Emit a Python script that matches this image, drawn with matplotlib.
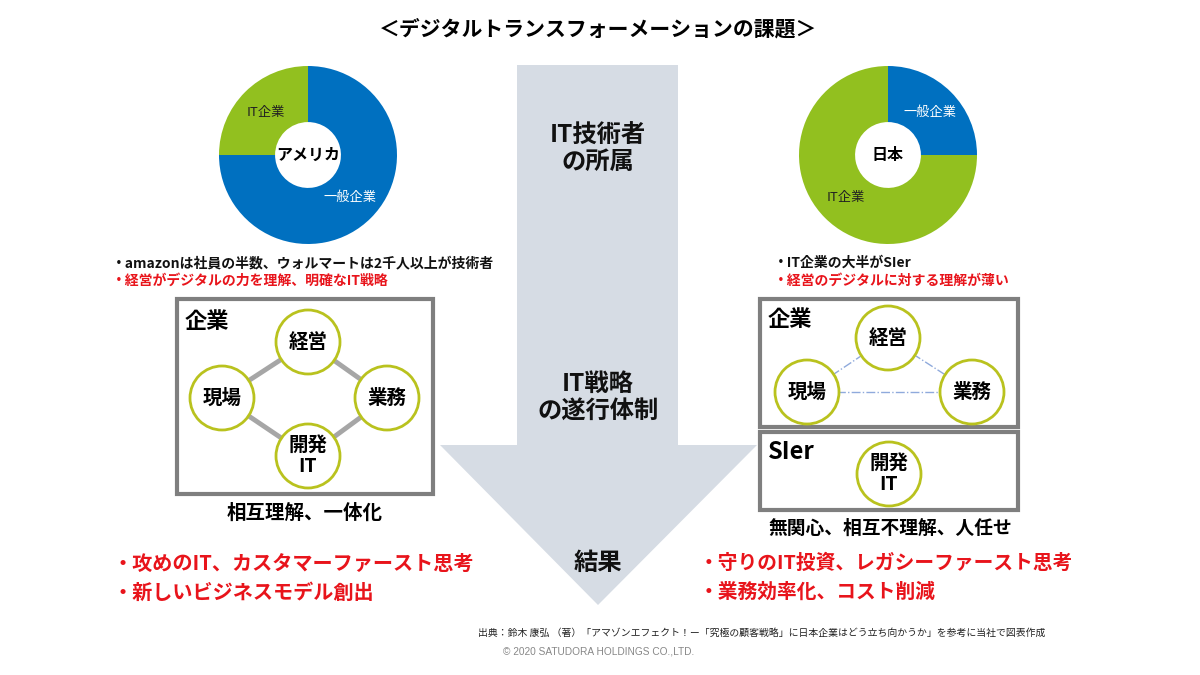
import matplotlib.pyplot as plt
import matplotlib.patches as mpatches

plt.rcParams['font.family'] = ['Noto Sans CJK JP', 'DejaVu Sans']

# donut data (share of IT engineers by employer type)
sectors = ['一般企業', 'IT企業']
usa_share = [75, 25]
japan_share = [25, 75]
sector_colors = ['#0070C0', '#92C01F']

title = '＜デジタルトランスフォーメーションの課題＞'
stages = ['IT技術者\nの所属', 'IT戦略\nの遂行体制', '結果']
usa_notes = ['・amazonは社員の半数、ウォルマートは2千人以上が技術者',
             '・経営がデジタルの力を理解、明確なIT戦略']
japan_notes = ['・IT企業の大半がSIer', '・経営のデジタルに対する理解が薄い']
usa_result = ['・攻めのIT、カスタマーファースト思考', '・新しいビジネスモデル創出']
japan_result = ['・守りのIT投資、レガシーファースト思考', '・業務効率化、コスト削減']
roles = ['経営', '現場', '業務', '開発\nIT']
source = ('出典：鈴木 康弘 （著）「アマゾンエフェクト！ー「究極の顧客戦略」に'
          '日本企業はどう立ち向かうか」を参考に当社で図表作成')
copyright = '© 2020 SATUDORA HOLDINGS CO.,LTD.'

W, H = 1200, 675
fig = plt.figure(figsize=(12, 6.75), dpi=100)
ax = fig.add_axes([0, 0, 1, 1])
ax.set_xlim(0, W)
ax.set_ylim(H, 0)
ax.axis('off')

# big arrow in the middle
arrow = mpatches.Polygon([(517, 65), (678, 65), (678, 445), (757, 445), (598, 605),
                          (440, 445), (517, 445)], closed=True, fc='#D6DCE4', ec='none')
ax.add_patch(arrow)
for txt, y in zip(stages, [149, 397, 563]):
    ax.text(598, y, txt, ha='center', va='center', fontsize=17.5, fontweight='bold',
            linespacing=1.15, color='#111111')

ax.text(598, 29, title, ha='center', va='center', fontsize=15, fontweight='bold')


def donut(cx, cy, r, shares, name):
    pax = fig.add_axes([(cx - r) / W, 1 - (cy + r) / H, 2 * r / W, 2 * r / H])
    wedges, texts = pax.pie(shares, labels=sectors, colors=sector_colors, startangle=90,
                            counterclock=False, labeldistance=0.67,
                            wedgeprops=dict(width=0.63, linewidth=0),
                            textprops=dict(fontsize=9.5))
    for t, c in zip(texts, ['white', '#222222']):
        t.set_color(c)
        t.set_ha('center')
        t.set_va('center')
    pax.set_xlim(-1, 1)
    pax.set_ylim(-1, 1)
    pax.text(0, 0, name, ha='center', va='center', fontsize=11.5, fontweight='bold')


donut(308, 155, 89, usa_share, 'アメリカ')
donut(888, 155, 89, japan_share, '日本')

# notes under donuts
for i, (a, b) in enumerate(zip(usa_notes, japan_notes)):
    c = '#111111' if i == 0 else '#E8141B'
    ax.text(112, 263 + i * 18, a, ha='left', va='center', fontsize=10, fontweight='bold', color=c)
    ax.text(774, 263 + i * 18, b, ha='left', va='center', fontsize=10, fontweight='bold', color=c)

box_c = '#7F7F7F'
ring_c = '#B9C21E'
R = 32


def node(x, y, label):
    ax.add_patch(mpatches.Circle((x, y), R, fc='white', ec=ring_c, lw=2, zorder=3))
    ax.text(x, y, label, ha='center', va='center', fontsize=14, fontweight='bold',
            linespacing=1.2, zorder=4)


# left: integrated company
ax.add_patch(mpatches.Rectangle((177, 299), 256, 195, fill=False, ec=box_c, lw=3))
ax.text(185, 321, '企業', ha='left', va='center', fontsize=16, fontweight='bold')
lpos = [(308, 342), (222, 398), (387, 398), (308, 456)]
for a, b in [(0, 1), (0, 2), (1, 3), (2, 3)]:
    ax.plot([lpos[a][0], lpos[b][0]], [lpos[a][1], lpos[b][1]], color='#A6A6A6', lw=3.5, zorder=2)
for (x, y), lab in zip(lpos, roles):
    node(x, y, lab)
ax.text(305, 513, '相互理解、一体化', ha='center', va='center', fontsize=14, fontweight='bold')

# right: company + SIer split
ax.add_patch(mpatches.Rectangle((760, 299), 258, 128, fill=False, ec=box_c, lw=3))
ax.add_patch(mpatches.Rectangle((760, 432), 258, 78, fill=False, ec=box_c, lw=3))
ax.text(768, 320, '企業', ha='left', va='center', fontsize=16, fontweight='bold')
ax.text(768, 452, 'SIer', ha='left', va='center', fontsize=17, fontweight='bold')
rpos = [(888, 338), (807, 392), (972, 392), (889, 474)]
for a, b in [(0, 1), (0, 2), (1, 2)]:
    ax.plot([rpos[a][0], rpos[b][0]], [rpos[a][1], rpos[b][1]], color='#8FAADC', lw=1,
            ls='-.', zorder=2)
for (x, y), lab in zip(rpos, roles):
    node(x, y, lab)
ax.text(890, 528, '無関心、相互不理解、人任せ', ha='center', va='center', fontsize=13.5,
        fontweight='bold')

# results
for i, (a, b) in enumerate(zip(usa_result, japan_result)):
    ax.text(113, 563 + i * 29, a, ha='left', va='center', fontsize=14.5, fontweight='bold',
            color='#E8141B')
    ax.text(699, 563 + i * 29, b, ha='left', va='center', fontsize=14.2, fontweight='bold',
            color='#E8141B')

ax.text(478, 633, source, ha='left', va='center', fontsize=7.1, color='#222222')
ax.text(503, 652, copyright, ha='left', va='center', fontsize=7.3, color='#888888',
        family=['Liberation Sans', 'DejaVu Sans'])

fig.savefig('out.png', dpi=100, facecolor='white')
